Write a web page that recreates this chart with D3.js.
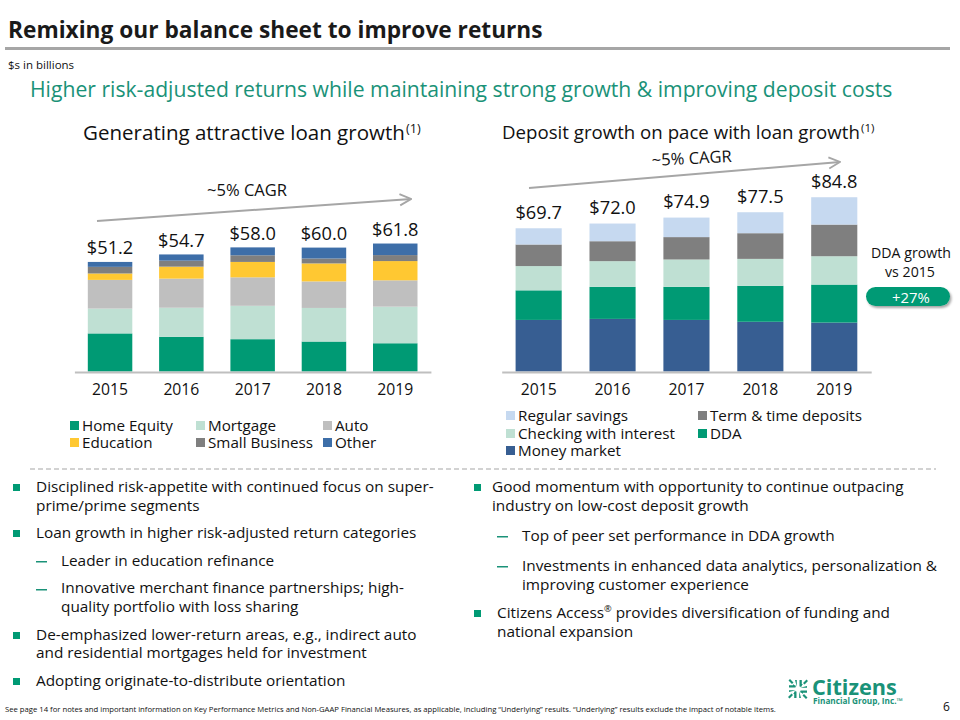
<!DOCTYPE html>
<html><head><meta charset="utf-8">
<script src="https://cdn.jsdelivr.net/npm/d3@7/dist/d3.min.js"></script>
<style>
html,body{margin:0;padding:0;background:#fff;}
svg{display:block;font-family:"Open Sans",Lato,sans-serif;}
</style></head>
<body>
<svg id="c" width="960" height="720"></svg>
<script>
// ---------- DATA ----------
const years = ["2015","2016","2017","2018","2019"];

const loanSeries = ["Home Equity","Mortgage","Auto","Education","Small Business","Other"];
const homeEquity    = [17.8, 16.2, 15.1, 14.0, 13.2];
const mortgage      = [11.6, 13.6, 15.6, 15.7, 17.1];
const auto          = [13.4, 13.6, 13.3, 12.4, 12.3];
const education     = [3.0, 5.6, 7.2, 8.4, 9.0];
const smallBusiness = [3.1, 2.8, 3.1, 2.3, 2.8];
const otherLoans    = [2.3, 2.9, 3.7, 5.1, 5.4];
const loanTotals    = ["$51.2","$54.7","$58.0","$60.0","$61.8"];

const depositSeries = ["Money market","DDA","Checking with interest","Term & time deposits","Regular savings"];
const moneyMarket   = [25.1, 25.6, 25.1, 24.2, 23.8];
const dda           = [14.4, 15.6, 16.1, 17.5, 18.5];
const checkingInt   = [11.8, 12.5, 13.3, 13.1, 13.8];
const termTime      = [10.5, 9.7, 10.9, 12.5, 15.4];
const regularSav    = [7.9, 8.6, 9.5, 10.2, 13.3];
const depositTotals = ["$69.7","$72.0","$74.9","$77.5","$84.8"];

const cagrLabel = "~5% CAGR";
const ddaGrowth = "+27%";

// ---------- STYLES ----------
const loanColors = {"Home Equity":"#009a74","Mortgage":"#bfe0d3","Auto":"#bfbfbf","Education":"#ffc832","Small Business":"#7f7f7f","Other":"#3d6ea8"};
const depColors = {"Money market":"#375e92","DDA":"#009a74","Checking with interest":"#bfe0d3","Term & time deposits":"#7f7f7f","Regular savings":"#c6d9f0"};
const GREEN = "#1a9278";
const INK = "#111";

const svg = d3.select("#c");

// size a text so it spans a given width
function fit(sel, w){
  const L = sel.node().getComputedTextLength();
  sel.attr("font-size", (+sel.attr("font-size")) * w / L);
  return +sel.attr("font-size");
}
function probeSize(txt, w, weight){
  const t = svg.append("text").attr("font-size",20).attr("font-weight",weight||"normal").text(txt);
  const s = fit(t, w); t.remove(); return s;
}

// defs
const defs = svg.append("defs");
defs.append("marker").attr("id","arr").attr("viewBox","0 0 10 10").attr("refX",9).attr("refY",5)
  .attr("markerWidth",7).attr("markerHeight",7).attr("orient","auto")
  .append("path").attr("d","M1,1 L9,5 L1,9").attr("fill","none").attr("stroke","#a6a6a6").attr("stroke-width",1.3);
const f = defs.append("filter").attr("id","sh").attr("x","-20%").attr("y","-30%").attr("width","140%").attr("height","180%");
f.append("feDropShadow").attr("dx",1.5).attr("dy",2).attr("stdDeviation",1.2).attr("flood-color","#000").attr("flood-opacity",0.35);

// ---------- HEADER ----------
fit(svg.append("text").attr("x",8).attr("y",38).attr("font-size",22).attr("font-weight","bold").attr("fill","#1a1a1a")
  .text("Remixing our balance sheet to improve returns"), 535);
svg.append("rect").attr("x",5).attr("y",47).attr("width",945).attr("height",3).attr("fill","#a6a6a6");
svg.append("text").attr("x",8).attr("y",69).attr("font-size",11.5).attr("fill",INK).text("$s in billions");
fit(svg.append("text").attr("x",30).attr("y",97).attr("font-size",19).attr("fill",GREEN)
  .text("Higher risk-adjusted returns while maintaining strong growth & improving deposit costs"), 863);

function heading(x, y, txt, w){
  const t = svg.append("text").attr("x",x).attr("y",y).attr("font-size",19).attr("fill",INK).text(txt);
  const s = fit(t, w);
  svg.append("text").attr("x",x+w+1).attr("y",y-7).attr("font-size",s*0.62).attr("fill",INK).text("(1)");
}
heading(83,140,"Generating attractive loan growth",322);
heading(502,139,"Deposit growth on pace with loan growth",358);

// ---------- CHART HELPER ----------
const totSize = probeSize("$51.2", 46.5);
const axSize = probeSize("2015", 36);
function stackedChart(opts){
  const x = d3.scaleBand().domain(years).range(opts.xr).paddingInner(0.376).paddingOuter(0.188);
  const y = d3.scaleLinear().domain([0, opts.ymax]).range([371.5, 371.5 - opts.pxPerUnit*opts.ymax]);
  const rows = years.map((yr,i)=>{ const o={year:yr}; opts.series.forEach((s,j)=>o[s]=opts.values[j][i]); return o; });
  const stack = d3.stack().keys(opts.series)(rows);
  const g = svg.append("g");
  g.selectAll("g.s").data(stack).join("g").attr("fill",d=>opts.colors[d.key])
    .selectAll("rect").data(d=>d).join("rect")
    .attr("x",d=>x(d.data.year)).attr("width",x.bandwidth())
    .attr("y",d=>y(d[1])).attr("height",d=>y(d[0])-y(d[1]));
  const ax = g.append("g").attr("transform","translate(0,372)").call(d3.axisBottom(x).tickSize(0).tickPadding(12));
  ax.select(".domain").attr("stroke","#bfbfbf").attr("stroke-width",2);
  ax.selectAll("text").attr("font-size",axSize).attr("font-family","'Open Sans',sans-serif").attr("fill",INK);
  const top = stack[stack.length-1];
  g.selectAll("text.tot").data(top).join("text").attr("class","tot")
    .attr("x",d=>x(d.data.year)+x.bandwidth()/2).attr("y",d=>y(d[1])-opts.labOff)
    .attr("text-anchor","middle").attr("font-size",totSize).attr("fill",INK)
    .text((d,i)=>opts.totals[i]);
}

stackedChart({xr:[74.4,430.9], ymax:70, pxPerUnit:2.14, series:loanSeries,
  values:[homeEquity,mortgage,auto,education,smallBusiness,otherLoans], colors:loanColors, totals:loanTotals, labOff:7.5});
stackedChart({xr:[501.7,871.2], ymax:90, pxPerUnit:2.055, series:depositSeries,
  values:[moneyMarket,dda,checkingInt,termTime,regularSav], colors:depColors, totals:depositTotals, labOff:9.5});

// CAGR arrows
const cagrSize = probeSize(cagrLabel, 80);
svg.append("line").attr("x1",97).attr("y1",221).attr("x2",411).attr("y2",199)
  .attr("stroke","#a6a6a6").attr("stroke-width",2).attr("marker-end","url(#arr)");
svg.append("text").attr("x",247).attr("y",196).attr("text-anchor","middle").attr("font-size",cagrSize).attr("fill",INK).text(cagrLabel);
svg.append("line").attr("x1",529).attr("y1",188).attr("x2",840).attr("y2",162)
  .attr("stroke","#a6a6a6").attr("stroke-width",2).attr("marker-end","url(#arr)");
svg.append("text").attr("transform","translate(692,164) rotate(-3)").attr("text-anchor","middle").attr("font-size",cagrSize).attr("fill",INK).text(cagrLabel);

// DDA growth callout
const ddaSize = probeSize("DDA growth", 80);
svg.append("text").attr("x",911).attr("y",258).attr("text-anchor","middle").attr("font-size",ddaSize).attr("fill",INK).text("DDA growth");
svg.append("text").attr("x",910).attr("y",277).attr("text-anchor","middle").attr("font-size",ddaSize).attr("fill",INK).text("vs 2015");
svg.append("rect").attr("x",866).attr("y",287).attr("width",84).attr("height",19).attr("rx",9.5).attr("fill","#009a74").attr("filter","url(#sh)");
svg.append("text").attr("x",911).attr("y",302.5).attr("text-anchor","middle").attr("font-size",ddaSize*1.05).attr("fill","#fff").text(ddaGrowth);

// ---------- LEGENDS ----------
const legSize = probeSize("Checking with interest", 157);
function legend(items, colors, positions){
  items.forEach((name,i)=>{
    const p = positions[i];
    svg.append("rect").attr("x",p[0]).attr("y",p[1]-5).attr("width",9).attr("height",9).attr("fill",colors[name]);
    svg.append("text").attr("x",p[0]+12).attr("y",p[1]+5).attr("font-size",legSize).attr("fill",INK).text(name);
  });
}
legend(loanSeries, loanColors, [[70,426],[196,426],[323,426],[70,443],[196,443],[323,443]]);
legend(["Regular savings","Term & time deposits","Checking with interest","DDA","Money market"], depColors,
  [[506,416],[698,416],[506,434],[698,434],[506,451]]);

svg.append("line").attr("x1",30).attr("x2",936).attr("y1",469).attr("y2",469)
  .attr("stroke","#a6a6a6").attr("stroke-width",1.2).attr("stroke-dasharray","5,3");

// ---------- BULLETS ----------
const bSize = probeSize("Disciplined risk-appetite with continued focus on super-", 398);
function bullet(x, y){ svg.append("rect").attr("x",x).attr("y",y-4).attr("width",7).attr("height",7).attr("fill","#009a74"); }
function dash(x, y){ svg.append("rect").attr("x",x).attr("y",y).attr("width",11).attr("height",1.5).attr("fill",GREEN); }
function line(x, y, txt){ return svg.append("text").attr("x",x).attr("y",y+5).attr("font-size",bSize).attr("fill",INK).text(txt); }

bullet(13,488); line(36,487,"Disciplined risk-appetite with continued focus on super-"); line(36,506,"prime/prime segments");
bullet(13,534); line(36,533,"Loan growth in higher risk-adjusted return categories");
dash(36,561); line(61,561,"Leader in education refinance");
dash(36,589); line(61,588,"Innovative merchant finance partnerships; high-"); line(61,607,"quality portfolio with loss sharing");
bullet(13,636); line(36,635,"De-emphasized lower-return areas, e.g., indirect auto"); line(36,653,"and residential mortgages held for investment");
bullet(13,682); line(36,681,"Adopting originate-to-distribute orientation");

bullet(474,488); line(492,487,"Good momentum with opportunity to continue outpacing"); line(492,506,"industry on low-cost deposit growth");
dash(497,536); line(522,536,"Top of peer set performance in DDA growth");
dash(497,566); line(522,566,"Investments in enhanced data analytics, personalization &"); line(522,585,"improving customer experience");
bullet(474,614);
(function(){
  const t = svg.append("text").attr("x",497).attr("y",618).attr("font-size",bSize).attr("fill",INK);
  t.append("tspan").text("Citizens Access");
  t.append("tspan").attr("font-size",bSize*0.6).attr("dy",-6).text("®");
  t.append("tspan").attr("dy",6).text(" provides diversification of funding and");
})();
line(497,632,"national expansion");

// ---------- FOOTER ----------
fit(svg.append("text").attr("x",5).attr("y",712).attr("font-size",7.5).attr("fill",INK)
  .text("See page 14 for notes and important information on Key Performance Metrics and Non-GAAP Financial Measures, as applicable, including \u201cUnderlying\u201d results. \u201cUnderlying\u201d results exclude the impact of notable items."), 772);
svg.append("text").attr("x",943).attr("y",711).attr("font-size",12).attr("fill",INK).text("6");

// logo
const lg = svg.append("g").attr("transform","translate(798,689)").attr("fill","#1a9278");
[0,90,180,270].forEach(a=>{
  lg.append("path").attr("transform",`rotate(${a})`).attr("d","M2,-2 L5,-5 L2,-5 M2,-2 L-1,-5 M2.2,-1.2 L9,-1.2 L9,-3 z");
  lg.append("path").attr("transform",`rotate(${a})`).attr("d","M1.5,-2.5 L1.5,-9 L3.8,-9 L3.8,-2.5 z M5,-6 L8.5,-9.5 L10,-8 L6.5,-4.5 z");
});
fit(svg.append("text").attr("x",812).attr("y",695).attr("font-size",19).attr("font-weight","bold").attr("fill","#1a9278").text("Citizens"), 85);
fit(svg.append("text").attr("x",813).attr("y",704).attr("font-size",9).attr("font-weight","bold").attr("fill","#1a9278").text("Financial Group, Inc.\u2122"), 90);
</script>
</body></html>
